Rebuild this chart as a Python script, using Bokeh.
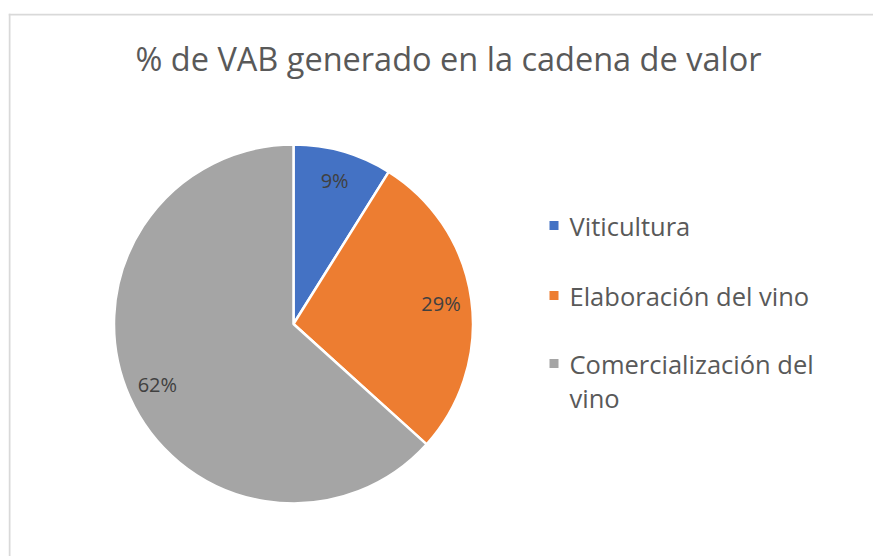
import math
import textwrap
from bokeh.plotting import figure
from bokeh.models import Range1d, ColumnDataSource, Span
from bokeh.core.properties import value
from bokeh.embed import file_html
from bokeh.resources import INLINE

title_text = "% de VAB generado en la cadena de valor"
categories = ["Viticultura", "Elaboración del vino", "Comercialización del vino"]
shares = [8.9, 27.8, 63.3]
pct_labels = ["9%", "29%", "62%"]
colors = ["#4472C4", "#ED7D31", "#A5A5A5"]

W, H = 873, 556
LEFT, TOP = 8, 13
p = figure(width=W, height=H, output_backend="svg", toolbar_location=None,
           x_range=Range1d(0, W - LEFT), y_range=Range1d(0, H - TOP),
           min_border_left=LEFT, min_border_right=0, min_border_top=TOP, min_border_bottom=0)
p.axis.visible = False
p.grid.visible = False
p.outline_line_color = None
p.background_fill_color = "white"
p.border_fill_color = "white"

# chart-area border (top and left edges visible in the reference)
p.add_layout(Span(location=H - TOP - 1, dimension="width", line_color="#d9d9d9", line_width=2))
p.add_layout(Span(location=1, dimension="height", line_color="#d9d9d9", line_width=2))

cx, cy, R = 285, 232.5, 179.5
total = sum(shares)
starts, ends, lx, ly = [], [], [], []
cum = 0.0
for s in shares:
    a0 = cum / total
    cum += s
    a1 = cum / total
    starts.append(math.pi / 2 - 2 * math.pi * a1)
    ends.append(math.pi / 2 - 2 * math.pi * a0)
    mid = math.pi / 2 - 2 * math.pi * (a0 + a1) / 2
    lx.append(cx + 0.83 * R * math.cos(mid))
    ly.append(cy + 0.83 * R * math.sin(mid))

src = ColumnDataSource(dict(start=starts, end=ends, color=colors, lx=lx, ly=ly, lab=pct_labels))
p.wedge(x=cx, y=cy, radius=R, start_angle="start", end_angle="end", fill_color="color",
        line_color="white", line_width=2.5, source=src)
p.text(x="lx", y="ly", text="lab", source=src, text_align="center", text_baseline="middle",
       text_font=value("Open Sans"), text_font_size="20px", text_color="#404040")

# title
p.text(x=[440], y=[498], text=[title_text], text_align="center", text_baseline="middle",
       text_font=value("Open Sans"), text_font_size="32.5px", text_color="#595959")

# legend
leg_y = [331, 261, 193]
line_h = 34
tx, ty, tt = [], [], []
for i, cat in enumerate(categories):
    for j, line in enumerate(textwrap.wrap(cat, width=20)):
        tx.append(561)
        ty.append(leg_y[i] - j * line_h)
        tt.append(line)
p.rect(x=[545.5] * 3, y=leg_y, width=9, height=9, fill_color=colors, line_color=None)
p.text(x=tx, y=ty, text=tt, text_align="left", text_baseline="middle",
       text_font=value("Open Sans"), text_font_size="25.5px", text_color="#595959")

open("out.html", "w").write(file_html(p, INLINE))
